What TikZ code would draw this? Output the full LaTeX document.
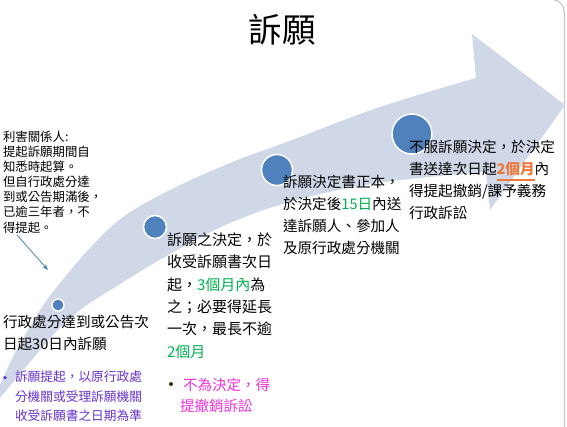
\documentclass[tikz,border=0pt]{standalone}
\usepackage{fontspec}
\setmainfont{Noto Sans CJK TC}
\usetikzlibrary{arrows.meta}
\definecolor{bandc}{HTML}{D0D8E8}
\definecolor{dotc}{HTML}{4F81BD}
\definecolor{grn}{HTML}{00B050}
\definecolor{org}{HTML}{F0783C}
\definecolor{pur}{HTML}{6633CC}
\definecolor{mag}{HTML}{F030DC}
\definecolor{framec}{HTML}{C8C8C8}
\definecolor{arrc}{HTML}{4A7EBB}
\tikzset{
  tx/.style={anchor=base west, inner sep=0pt, outer sep=0pt},
  sA/.style={tx, font=\fontsize{12.4}{15}\selectfont},
  sB/.style={tx, font=\fontsize{14.6}{22}\selectfont},
  sC/.style={tx, font=\fontsize{12.7}{20}\selectfont, text=pur},
  sD/.style={tx, font=\fontsize{15}{22}\selectfont},
  sM/.style={tx, font=\fontsize{14.5}{22}\selectfont, text=mag},
  dotn/.style={circle, fill=dotc, draw=white, line width=1.5pt, inner sep=0pt, minimum size=#1},
}
\begin{document}
\begin{tikzpicture}[x=1pt,y=-1pt]
\useasboundingbox (0,0) rectangle (567,427);
% frame
\draw[framec, line width=1.2pt] (546,-1) .. controls (560,-1) and (564.5,4) .. (564.5,16) -- (564.5,430);
% curved arrow band
\fill[bandc] plot[smooth, tension=0.6] coordinates {(0,398) (30,362) (55,333) (80,310) (120,284) (170,254) (230,223) (300,199) (385,182) (486,172)}
  -- (490,210) -- (565,105) -- (472,34) -- (476,78)
  -- plot[smooth, tension=0.6] coordinates {(476,78) (380,107) (292,140) (230,163) (170,190) (123,217) (90,248) (60,283) (40,310) (15,353) (0,385)} -- cycle;
% dots
\node[dotn=12pt] (d1) at (58,305) {};
\node[dotn=23pt] (d2) at (155,227) {};
\node[dotn=31pt] (d3) at (277,170) {};
\node[dotn=40pt] (d4) at (412,134) {};
% title
\node[anchor=base, inner sep=0pt, font=\fontsize{33.5}{40}\selectfont] (title) at (282,42.7) {訴願};
% block 1
\node[sA] (a1) at (3,141.5) {利害關係人:};
\node[sA] (a2) at (3,156.6) {提起訴願期間自};
\node[sA] (a3) at (3,171.7) {知悉時起算。};
\node[sA] (a4) at (3,186.8) {但自行政處分達};
\node[sA] (a5) at (3,201.9) {到或公告期滿後，};
\node[sA] (a6) at (3,217.0) {已逾三年者，不};
\node[sA] (a7) at (3,232.1) {得提起。};
\coordinate (p1) at (17,235);
\coordinate (p2) at (48,270);
\draw[arrc, line width=0.8pt, -{Stealth[length=6pt,width=4.5pt]}] (p1) -- (p2);
% block 2
\node[sB] (b1) at (3,327.5) {行政處分達到或公告次};
\node[sB] (b2) at (3,349.0) {日起30日內訴願};
\node[circle, fill=pur!80!blue, inner sep=0pt, minimum size=3.5pt] (bul1) at (5,377.5) {};
\node[sC] (c1) at (15,381.8) {訴願提起，以原行政處};
\node[sC] (c2) at (15,401.8) {分機關或受理訴願機關};
\node[sC] (c3) at (15,420.8) {收受訴願書之日期為準};
% block 4
\node[sD] (e1) at (167,245.7) {訴願之決定，於};
\node[sD] (e2) at (167,268.0) {收受訴願書次日};
\node[sD] (e3) at (167,290.3) {起，{\color{grn}3個月內}為};
\node[sD] (e4) at (167,312.6) {之；必要得延長};
\node[sD] (e5) at (167,334.9) {一次，最長不逾};
\node[sD] (e6) at (167,357.2) {{\color{grn}2個月}};
\node[circle, fill=black!70!orange, inner sep=0pt, minimum size=4pt] (bul2) at (171,384) {};
\node[sM] (m1) at (183,390.5) {不為決定，得};
\node[sM] (m2) at (180,411.5) {提撤銷訴訟};
% block 6
\node[sB] (f1) at (283,187.3) {訴願決定書正本，};
\node[sB] (f2) at (283,209.5) {於決定後{\color{grn}15日}內送};
\node[sB] (f3) at (283,231.7) {達訴願人、參加人};
\node[sB] (f4) at (283,253.9) {及原行政處分機關};
% block 7
\node[sB] (g1) at (409,152.5) {不服訴願決定，於決定};
\node[sB] (g2a) at (409,174.5) {書送達次日起};
\node[sB, text=org, font=\fontsize{14.6}{22}\selectfont\bfseries] (g2b) at (g2a.base east) {2個月};
\node[sB] (g2c) at (g2b.base east) {內};
\draw[org, line width=1.3pt] ([yshift=-5.5pt]g2b.base west) -- ([yshift=-5.5pt]g2b.base east);
\node[sB] (g3) at (409,196.5) {得提起撤銷/課予義務};
\node[sB] (g4) at (409,218.5) {行政訴訟};
\end{tikzpicture}
\end{document}
